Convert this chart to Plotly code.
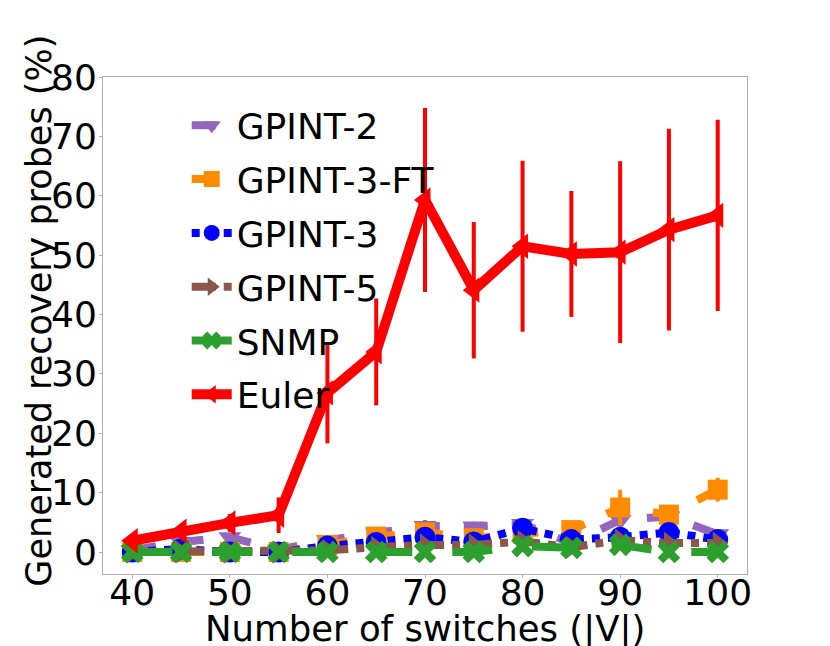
import plotly.graph_objects as go

switches = [40, 45, 50, 55, 60, 65, 70, 75, 80, 85, 90, 95, 100]

gpint2 = [0.3, 1.7, 2.5, 0.4, 2.0, 3.3, 4.4, 4.3, 4.7, 1.5, 5.4, 6.0, 3.0]
gpint2_err = [0.3, 0.5, 0.5, 0.3, 0.5, 0.8, 1.0, 0.8, 1.0, 0.5, 1.0, 0.8, 0.6]

gpint3ft = [0.0, 0.0, 0.0, 0.0, 1.2, 2.6, 3.3, 2.3, 3.1, 3.7, 7.5, 6.3, 10.5]
gpint3ft_err = [0.3, 0.3, 0.3, 0.3, 0.5, 1.0, 0.8, 0.6, 0.6, 0.6, 3.0, 1.0, 2.0]

gpint3 = [0.0, 0.5, 0.0, 0.0, 1.0, 1.6, 2.5, 1.7, 4.0, 2.1, 2.5, 3.3, 2.1]
gpint3_err = [0.2, 0.3, 0.2, 0.2, 0.4, 0.5, 0.6, 0.5, 0.8, 0.5, 0.6, 0.6, 0.5]

gpint5 = [0.0, 0.0, 0.0, 0.0, 0.3, 0.8, 1.2, 1.2, 1.8, 0.8, 2.0, 1.5, 1.5]
gpint5_err = [0.2, 0.2, 0.2, 0.2, 0.3, 0.4, 0.4, 0.4, 0.5, 0.4, 0.5, 0.4, 0.4]

snmp = [0.0, 0.0, 0.0, 0.0, 0.0, 0.0, 0.0, 0.0, 1.0, 0.7, 1.2, 0.0, 0.0]
snmp_err = [0.1, 0.1, 0.1, 0.1, 0.1, 0.1, 0.1, 0.1, 0.3, 0.3, 0.3, 0.1, 0.1]

euler = [1.9, 3.5, 4.9, 6.2, 26.8, 33.7, 59.3, 44.1, 51.5, 50.2, 50.5, 54.3, 56.7]
euler_err = [0.5, 1.0, 1.5, 3.0, 8.5, 9.0, 15.5, 11.5, 14.4, 10.6, 15.3, 17.0, 16.1]

FONT = "DejaVu Sans"

series = [
    ("GPINT-2", gpint2, gpint2_err, "#9467bd", "dash", "triangle-down", 20),
    ("GPINT-3-FT", gpint3ft, gpint3ft_err, "#ff8c00", "dash", "square", 20),
    ("GPINT-3", gpint3, gpint3_err, "#0000ff", "dot", "circle", 21),
    ("GPINT-5", gpint5, gpint5_err, "#8c564b", "dashdot", "triangle-right", 20),
    ("SNMP", snmp, snmp_err, "#2ca02c", "longdash", "x", 20),
    ("Euler", euler, euler_err, "#ff0000", "solid", "triangle-left", 22),
]

fig = go.Figure()
for i, (name, vals, errs, color, dash, symbol, msize) in enumerate(series):
    fig.add_trace(go.Scatter(
        x=switches,
        y=vals,
        name=name,
        legendgroup=f"g{i}",
        mode="lines+markers",
        line=dict(color=color, width=10 if name == "Euler" else 8, dash=dash),
        marker=dict(color=color, symbol=symbol, size=msize,
                    line=dict(width=0)),
        error_y=dict(type="data", array=errs, visible=True,
                     color=color, thickness=4, width=0),
    ))

# page body adds 8px offset, so margins are shifted to compensate
fig.update_layout(
    width=830,
    height=646,
    paper_bgcolor="white",
    plot_bgcolor="white",
    font=dict(family=FONT, size=36, color="black"),
    margin=dict(l=95, r=91, t=69, b=80),
    showlegend=True,
    legend=dict(
        x=0.13, y=0.963, xanchor="left", yanchor="top",
        bgcolor="rgba(0,0,0,0)", borderwidth=0,
        font=dict(family=FONT, size=36),
        tracegroupgap=4,
        itemwidth=40,
    ),
    xaxis=dict(
        range=[37, 103],
        tickvals=[40, 50, 60, 70, 80, 90, 100],
        showgrid=False, zeroline=False, automargin=False,
        showline=True, mirror=True, linecolor="#b0b0b0", linewidth=1,
        ticks="outside", ticklen=3, tickcolor="#b0b0b0",
        tickfont=dict(size=36), ticklabelstandoff=-16,
    ),
    yaxis=dict(
        range=[-3.7, 80],
        tickvals=[0, 10, 20, 30, 40, 50, 60, 70, 80],
        showgrid=False, zeroline=False, automargin=False,
        showline=True, mirror=True, linecolor="#b0b0b0", linewidth=1,
        ticks="outside", ticklen=3, tickcolor="#b0b0b0",
        tickfont=dict(size=36), ticklabelstandoff=-5,
    ),
    annotations=[
        dict(text="Number of switches (|V|)", xref="paper", yref="paper",
             x=0.5, y=-0.11, xanchor="center", yanchor="middle",
             showarrow=False, font=dict(size=35.5)),
        dict(text="Generated recovery probes (%)", xref="paper", yref="paper",
             x=-0.1, y=0.529, xanchor="center", yanchor="middle",
             textangle=-90, showarrow=False, font=dict(size=35)),
    ],
)

fig.write_html("out.html")
